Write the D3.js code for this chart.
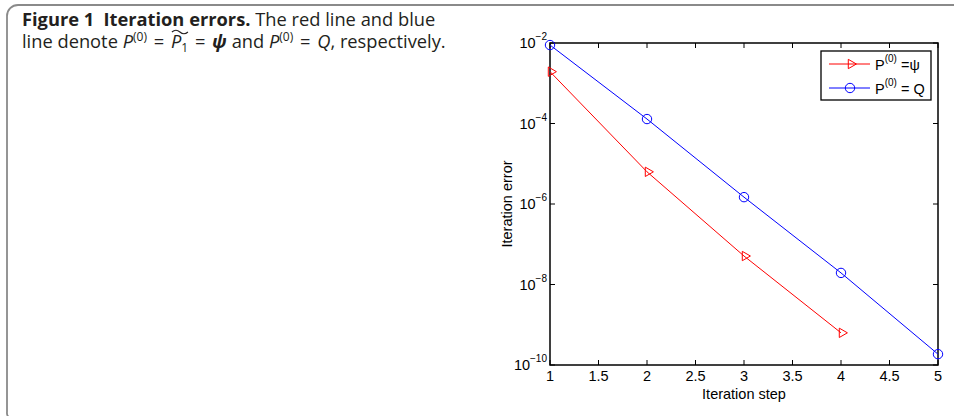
<!DOCTYPE html>
<html>
<head>
<meta charset="utf-8">
<script src="https://cdn.jsdelivr.net/npm/d3@7"></script>
<style>
  body { margin: 0; background: #fff; }
  svg { display: block; }
  .cap { font-family: "Open Sans", "Noto Sans", sans-serif; font-size: 18.3px; fill: #231f20; }
  .ax text { font-family: "Liberation Sans", Arial, sans-serif; font-size: 14.5px; fill: #000; }
</style>
</head>
<body>
<script>
// values
const steps = [1, 2, 3, 4, 5];
const errQ = [8.9e-3, 1.29e-4, 1.48e-6, 1.94e-8, 1.86e-10];
const errPsi = [1.94e-3, 6.3e-6, 5.1e-8, 6.3e-10];
const xTicks = [1, 1.5, 2, 2.5, 3, 3.5, 4, 4.5, 5];
const yExps = [-2, -4, -6, -8, -10];

const W = 954, H = 416;
const svg = d3.select("body").append("svg").attr("width", W).attr("height", H);

// panel border with rounded top-left corner
svg.append("path")
    .attr("d", `M${W},5 H18 A11,11 0 0 0 7,16 V${H - 4} A6,6 0 0 0 10,${H + 2}`)
    .attr("fill", "none").attr("stroke", "#8a8a8a").attr("stroke-width", 1.8);

// caption
const cap = svg.append("g").attr("class", "cap");
let t1 = cap.append("text").attr("x", 22).attr("y", 26);
t1.append("tspan").attr("font-weight", "bold").text("Figure 1\u2002Iteration errors.");
t1.append("tspan").text(" The red line and blue");

let t2 = cap.append("text").attr("x", 22).attr("y", 48);
let chars = 0, tildeAt = -1;
function add(txt, attrs) {
    const s = t2.append("tspan").text(txt);
    Object.keys(attrs || {}).forEach(k => s.attr(k, attrs[k]));
    chars += txt.length;
    return s;
}
add("line denote ");
add("P", {"font-style": "italic"});
add("(0)", {"font-size": 12, dy: -7});
add(" = ", {dy: 7, dx: 2});
tildeAt = chars;
add("P", {"font-style": "italic", dx: 2});
add("1", {"font-size": 12, dy: 4});
add(" = ", {dy: -4, dx: 2});
add("\u03c8", {"font-style": "italic", "font-weight": "bold", dx: 2});
add(" and ");
add("P", {"font-style": "italic"});
add("(0)", {"font-size": 12, dy: -7});
add(" = ", {dy: 7, dx: 2});
add("Q", {"font-style": "italic", dx: 2});
add(", respectively.");

// wide tilde over the second P
const p0 = t2.node().getStartPositionOfChar(tildeAt);
cap.append("path").attr("d", `M${p0.x + 1},32 q4,-3.5 8,0 t8,0`)
    .attr("fill", "none").attr("stroke", "#231f20").attr("stroke-width", 1.2);

// plot
const pLeft = 550, pRight = 938, pTop = 43, pBottom = 365;
const x = d3.scaleLinear().domain([1, 5]).range([pLeft, pRight]);
const y = d3.scaleLog().domain([1e-10, 1e-2]).range([pBottom, pTop]);

const ax = svg.append("g").attr("class", "ax");
const tl = 5;

// x ticks bottom & top
xTicks.forEach(v => {
    ax.append("line").attr("x1", x(v)).attr("x2", x(v)).attr("y1", pBottom).attr("y2", pBottom - tl)
        .attr("stroke", "#000");
    ax.append("line").attr("x1", x(v)).attr("x2", x(v)).attr("y1", pTop).attr("y2", pTop + tl)
        .attr("stroke", "#000");
    ax.append("text").attr("x", x(v)).attr("y", pBottom + 16).attr("text-anchor", "middle")
        .text(d3.format("~g")(v));
});
// y ticks left & right
yExps.forEach(e => {
    const yy = y(Math.pow(10, e));
    ax.append("line").attr("x1", pLeft).attr("x2", pLeft + tl).attr("y1", yy).attr("y2", yy).attr("stroke", "#000");
    ax.append("line").attr("x1", pRight).attr("x2", pRight - tl).attr("y1", yy).attr("y2", yy).attr("stroke", "#000");
    const lab = ax.append("text").attr("x", pLeft - 3).attr("y", yy + 5).attr("text-anchor", "end");
    lab.append("tspan").text("10");
    lab.append("tspan").attr("font-size", "10px").attr("dy", -8).text("\u2212" + (-e));
});

ax.append("rect").attr("x", pLeft).attr("y", pTop).attr("width", pRight - pLeft).attr("height", pBottom - pTop)
    .attr("fill", "none").attr("stroke", "#000").attr("stroke-width", 1.5);

ax.append("text").attr("x", (pLeft + pRight) / 2).attr("y", 399).attr("text-anchor", "middle").text("Iteration step");
ax.append("text").attr("transform", `translate(512,${(pTop + pBottom) / 2}) rotate(-90)`)
    .attr("text-anchor", "middle").text("Iteration error");

const line = d3.line().x(d => x(d[0])).y(d => y(d[1]));
const blue = steps.map((s, i) => [s, errQ[i]]);
const red = errPsi.map((v, i) => [steps[i], v]);

const tri = d3.symbol().type(d3.symbolTriangle).size(38);

svg.append("path").attr("d", line(red)).attr("fill", "none").attr("stroke", "#ff0000").attr("stroke-width", 1);
svg.append("path").attr("d", line(blue)).attr("fill", "none").attr("stroke", "#0000ff").attr("stroke-width", 1);

svg.selectAll(".mr").data(red).join("path")
    .attr("d", tri)
    .attr("transform", d => `translate(${x(d[0]) + 1},${y(d[1])}) rotate(90)`)
    .attr("fill", "none").attr("stroke", "#ff0000").attr("stroke-width", 1);
svg.selectAll(".mb").data(blue).join("circle")
    .attr("cx", d => x(d[0])).attr("cy", d => y(d[1])).attr("r", 4.7)
    .attr("fill", "none").attr("stroke", "#0000ff").attr("stroke-width", 1);

// legend
const lg = svg.append("g").attr("class", "ax");
lg.append("rect").attr("x", 821).attr("y", 51).attr("width", 110).attr("height", 49)
    .attr("fill", "#fff").attr("stroke", "#000").attr("stroke-width", 1.3);
const entries = [
    {c: "#ff0000", m: "tri", tail: " =\u03c8", yy: 64},
    {c: "#0000ff", m: "circ", tail: " = Q", yy: 88}
];
entries.forEach(en => {
    lg.append("line").attr("x1", 829).attr("x2", 870).attr("y1", en.yy).attr("y2", en.yy)
        .attr("stroke", en.c).attr("stroke-width", 1);
    if (en.m === "tri") {
        lg.append("path").attr("d", tri).attr("transform", `translate(851,${en.yy}) rotate(90)`)
            .attr("fill", "none").attr("stroke", en.c);
    } else {
        lg.append("circle").attr("cx", 850).attr("cy", en.yy).attr("r", 4.7)
            .attr("fill", "none").attr("stroke", en.c);
    }
    const t = lg.append("text").attr("x", 875).attr("y", en.yy + 6);
    t.append("tspan").text("P");
    t.append("tspan").attr("font-size", "10px").attr("dy", -8).text("(0)");
    t.append("tspan").attr("dy", 8).text(en.tail);
});
</script>
</body>
</html>
